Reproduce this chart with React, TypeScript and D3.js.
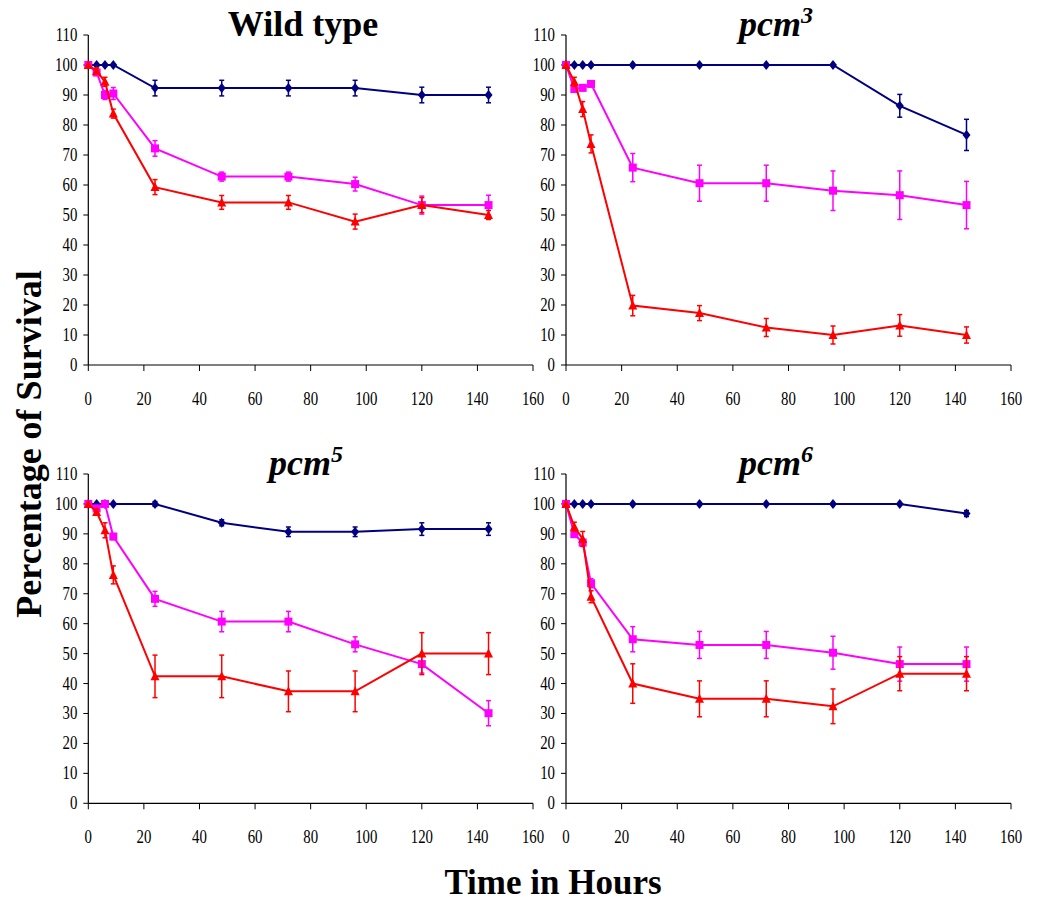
import React from "react";
import * as d3 from "d3";

const hours = [0, 3, 6, 9, 24, 48, 72, 96, 120, 144];
const xTicks = [0, 20, 40, 60, 80, 100, 120, 140, 160];
const yTicks = [0, 10, 20, 30, 40, 50, 60, 70, 80, 90, 100, 110];

// Wild type
const wtBlue = [100, 100, 100, 100, 92.3, 92.3, 92.3, 92.3, 90, 90];
const wtBlueErr = [0, 0, 0, 0, 2.6, 2.6, 2.6, 2.6, 2.6, 2.6];
const wtMag = [100, 97.5, 90, 90.5, 72.2, 62.8, 62.8, 60.3, 53.3, 53.3];
const wtMagErr = [0, 1, 1.5, 2, 2.6, 1.5, 1.5, 2.3, 3, 3.3];
const wtRed = [100, 98, 94.4, 83.8, 59.3, 54.2, 54.2, 47.8, 53.3, 50];
const wtRedErr = [0, 1, 1.5, 1.5, 2.5, 2.3, 2.3, 2.5, 2.5, 1.5];

// pcm3
const p3Blue = [100, 100, 100, 100, 100, 100, 100, 100, 86.4, 76.7];
const p3BlueErr = [0, 0, 0, 0, 0, 0, 0, 0, 3.8, 5.2];
const p3Mag = [100, 92, 92.4, 93.7, 65.8, 60.6, 60.6, 58.1, 56.6, 53.3];
const p3MagErr = [0, 1, 1, 1, 4.7, 6, 6, 6.6, 8.1, 7.9];
const p3Red = [100, 94.4, 85.3, 73.7, 19.8, 17.3, 12.5, 10, 13.2, 10];
const p3RedErr = [0, 1.5, 2.5, 3, 3.4, 2.5, 3, 3, 3.6, 2.7];

// pcm5
const p5Blue = [100, 100, 100, 100, 100, 93.7, 90.7, 90.7, 91.6, 91.6];
const p5BlueErr = [0, 0, 0, 0, 0.8, 1, 1.6, 1.6, 2.1, 2.1];
const p5Mag = [100, 98.5, 100, 89.1, 68.3, 60.7, 60.7, 53.1, 46.5, 30.1];
const p5MagErr = [0, 1, 0.5, 1, 2.5, 3.4, 3.4, 2.5, 3, 4.2];
const p5Red = [100, 97.3, 91.2, 76.3, 42.4, 42.4, 37.4, 37.4, 50, 50];
const p5RedErr = [0, 1, 2.5, 3, 7.1, 7.1, 6.8, 6.8, 7, 7];

// pcm6
const p6Blue = [100, 100, 100, 100, 100, 100, 100, 100, 100, 96.8];
const p6BlueErr = [0, 0, 0, 0, 0, 0, 0, 0, 0, 1];
const p6Mag = [100, 89.9, 87.1, 73.5, 54.8, 52.9, 52.9, 50.3, 46.5, 46.5];
const p6MagErr = [0, 1, 1, 1.5, 4.2, 4.5, 4.5, 5.5, 5.7, 5.7];
const p6Red = [100, 92.4, 88.3, 69, 40, 34.9, 34.9, 32.4, 43.3, 43.3];
const p6RedErr = [0, 1.5, 2.5, 2, 6.6, 6, 6, 5.8, 5.7, 5.7];

const NAVY = "#000080";
const MAG = "#FF00FF";
const RED = "#FF0000";
const FONT = "Liberation Serif, Times New Roman, serif";

type Series = { vals: number[]; errs: number[]; color: string; marker: "diamond" | "square" | "triangle" };

const panels = [
  { title: "Wild type", sup: "", x0: 88.3, x1: 533, y0: 365, y1: 35, tx: 303, ty: 36,
    series: [
      { vals: wtBlue, errs: wtBlueErr, color: NAVY, marker: "diamond" },
      { vals: wtMag, errs: wtMagErr, color: MAG, marker: "square" },
      { vals: wtRed, errs: wtRedErr, color: RED, marker: "triangle" },
    ] as Series[] },
  { title: "pcm", sup: "3", x0: 566, x1: 1011, y0: 365, y1: 35, tx: 776, ty: 36,
    series: [
      { vals: p3Blue, errs: p3BlueErr, color: NAVY, marker: "diamond" },
      { vals: p3Mag, errs: p3MagErr, color: MAG, marker: "square" },
      { vals: p3Red, errs: p3RedErr, color: RED, marker: "triangle" },
    ] as Series[] },
  { title: "pcm", sup: "5", x0: 88.3, x1: 533, y0: 803.3, y1: 474, tx: 306, ty: 475,
    series: [
      { vals: p5Blue, errs: p5BlueErr, color: NAVY, marker: "diamond" },
      { vals: p5Mag, errs: p5MagErr, color: MAG, marker: "square" },
      { vals: p5Red, errs: p5RedErr, color: RED, marker: "triangle" },
    ] as Series[] },
  { title: "pcm", sup: "6", x0: 566, x1: 1011, y0: 803.3, y1: 474, tx: 776, ty: 475,
    series: [
      { vals: p6Blue, errs: p6BlueErr, color: NAVY, marker: "diamond" },
      { vals: p6Mag, errs: p6MagErr, color: MAG, marker: "square" },
      { vals: p6Red, errs: p6RedErr, color: RED, marker: "triangle" },
    ] as Series[] },
];

function Marker({ kind, x, y, color }: { kind: string; x: number; y: number; color: string }) {
  if (kind === "diamond") {
    return <path d={`M${x},${y - 5}L${x + 4},${y}L${x},${y + 5}L${x - 4},${y}Z`} fill={color} />;
  }
  if (kind === "square") {
    return <rect x={x - 4} y={y - 4} width={8} height={8} fill={color} />;
  }
  return <path d={`M${x},${y - 5}L${x + 4.5},${y + 4}L${x - 4.5},${y + 4}Z`} fill={color} />;
}

function Panel({ p }: { p: (typeof panels)[number] }) {
  const x = d3.scaleLinear().domain([0, 160]).range([p.x0, p.x1]);
  const y = d3.scaleLinear().domain([0, 110]).range([p.y0, p.y1]);
  const line = d3.line<number>().x((_, i) => x(hours[i])).y((v) => y(v));
  return (
    <g>
      <line x1={p.x0} x2={p.x0} y1={y(110)} y2={y(0)} stroke="#000" strokeWidth={1.2} />
      <line x1={p.x0} x2={p.x1} y1={y(0)} y2={y(0)} stroke="#000" strokeWidth={1.2} />
      {yTicks.map((t) => (
        <g key={"y" + t}>
          <line x1={p.x0 - 5} x2={p.x0} y1={y(t)} y2={y(t)} stroke="#000" strokeWidth={1} />
          <g transform={`translate(${p.x0 - 11},${y(t) + 6}) scale(0.8,1)`}>
            <text textAnchor="end" fontFamily={FONT} fontSize={18.5} fill="#000">{t}</text>
          </g>
        </g>
      ))}
      {xTicks.map((t) => (
        <g key={"x" + t}>
          <line x1={x(t)} x2={x(t)} y1={y(0)} y2={y(0) + 6} stroke="#000" strokeWidth={1} />
          <g transform={`translate(${x(t)},${y(0) + 40}) scale(0.8,1)`}>
            <text textAnchor="middle" fontFamily={FONT} fontSize={18.5} fill="#000">{t}</text>
          </g>
        </g>
      ))}
      <text x={p.tx} y={p.ty} textAnchor="middle" fontFamily={FONT} fontWeight="bold"
        fontStyle={p.sup ? "italic" : "normal"} fontSize={36} fill="#000">
        {p.title}
        {p.sup ? <tspan fontSize={24} dy={-13}>{p.sup}</tspan> : null}
      </text>
      {p.series.map((s, si) => (
        <g key={si}>
          <path d={line(s.vals) || ""} fill="none" stroke={s.color} strokeWidth={2} />
          {s.vals.map((v, i) =>
            s.errs[i] > 0 ? (
              <g key={"e" + i} stroke={s.color} strokeWidth={1.5}>
                <line x1={x(hours[i])} x2={x(hours[i])} y1={y(v - s.errs[i])} y2={y(v + s.errs[i])} />
                <line x1={x(hours[i]) - 2.5} x2={x(hours[i]) + 2.5} y1={y(v - s.errs[i])} y2={y(v - s.errs[i])} />
                <line x1={x(hours[i]) - 2.5} x2={x(hours[i]) + 2.5} y1={y(v + s.errs[i])} y2={y(v + s.errs[i])} />
              </g>
            ) : null
          )}
          {s.vals.map((v, i) => (
            <Marker key={"m" + i} kind={s.marker} x={x(hours[i])} y={y(v)} color={s.color} />
          ))}
        </g>
      ))}
    </g>
  );
}

export default function App() {
  return (
    <svg width={1039} height={903} style={{ position: "absolute", left: 0, top: 0, background: "#fff" }}>
      <rect width={1039} height={903} fill="#fff" />
      {panels.map((p, i) => (
        <Panel key={i} p={p} />
      ))}
      <text transform="translate(41,444) rotate(-90)" textAnchor="middle" fontFamily={FONT}
        fontWeight="bold" fontSize={36} fill="#000">Percentage of Survival</text>
      <text x={553} y={894} textAnchor="middle" fontFamily={FONT} fontWeight="bold" fontSize={35} fill="#000">
        Time in Hours
      </text>
    </svg>
  );
}
